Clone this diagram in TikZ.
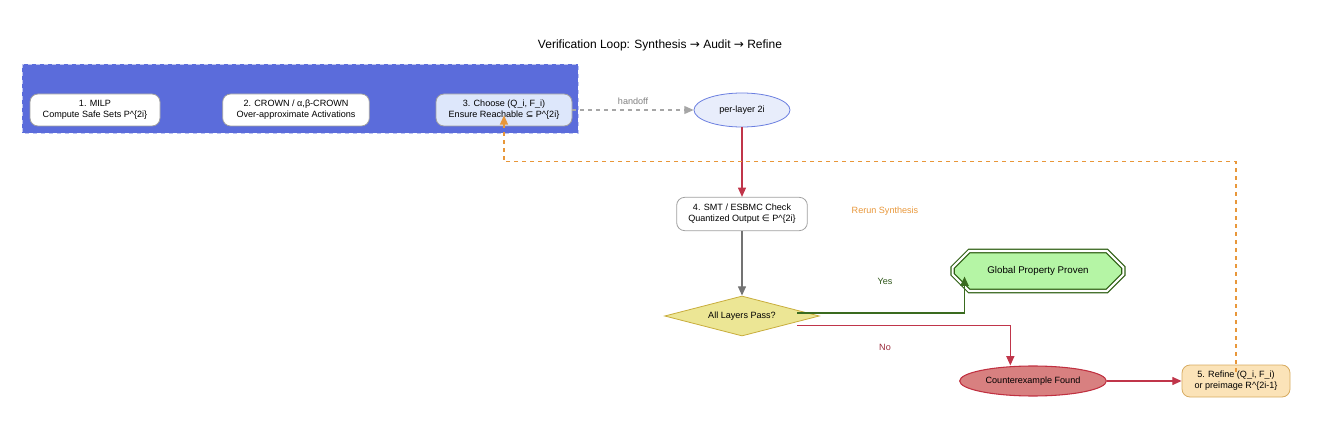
\documentclass[tikz,border=0pt]{standalone}
\usepackage{fontspec}
\setmainfont{Liberation Sans}
\newfontfamily\symf{DejaVu Sans}
\usetikzlibrary{shapes.geometric, shapes.misc, arrows.meta}
\definecolor{clusterblue}{HTML}{5B6CDB}
\definecolor{boxgray}{HTML}{A0A0A0}
\definecolor{chooseblue}{HTML}{DDE7FB}
\definecolor{layerfill}{HTML}{E8EDFB}
\definecolor{layerline}{HTML}{6B7FE0}
\definecolor{diafill}{HTML}{ECE695}
\definecolor{dialine}{HTML}{C8AD3C}
\definecolor{goodfill}{HTML}{B5F5A5}
\definecolor{goodline}{HTML}{2F5F14}
\definecolor{badfill}{HTML}{D88080}
\definecolor{badline}{HTML}{C03040}
\definecolor{refinefill}{HTML}{FBE3B8}
\definecolor{refineline}{HTML}{D7AB60}
\definecolor{redge}{HTML}{C0354A}
\definecolor{oedge}{HTML}{E8973A}
\definecolor{gedge}{HTML}{3A6B1F}

\begin{document}
\begin{tikzpicture}[x=0.75pt,y=-0.75pt,
  every node/.style={font=\fontsize{6.8}{8.4}\selectfont, align=center},
  stepbox/.style={draw=boxgray, rounded corners=6pt, fill=white, line width=0.6pt, inner sep=2pt},
  tip/.style={-{Triangle[length=7pt,width=6pt]}}]
\useasboundingbox (0,0) rectangle (1321,445);
\node[font=\fontsize{9}{11}\selectfont] (title) at (660,45) {Verification Loop: Synthesis {\symf →} Audit {\symf →} Refine};
\draw[fill=clusterblue, draw=clusterblue!40!white, dashed, line width=0.6pt] (22,64) rectangle (578,133);
\node[stepbox, minimum width=97.5pt, minimum height=24pt] (milp) at (95,110) {1. MILP\\Compute Safe Sets P\^{}\{2i\}};
\node[stepbox, minimum width=110pt, minimum height=24pt] (crown) at (296,110) {2. CROWN / α,β-CROWN\\Over-approximate Activations};
\node[stepbox, fill=chooseblue, minimum width=102pt, minimum height=24pt] (choose) at (504,110) {3. Choose (Q\_i, F\_i)\\Ensure Reachable {\symf ⊆} P\^{}\{2i\}};
\node[ellipse, draw=layerline, fill=layerfill, line width=0.6pt, minimum width=72pt, minimum height=25.5pt, inner sep=0pt] (layer) at (742,110) {per-layer 2i};
\node[stepbox, minimum width=98pt, minimum height=25pt] (smt) at (742,214) {4. SMT / ESBMC Check\\Quantized Output {\symf ∈} P\^{}\{2i\}};
\node[diamond, aspect=3.9, draw=dialine, fill=diafill, line width=0.6pt, minimum width=116pt, minimum height=30pt, inner sep=0pt] (pass) at (742,316) {All Layers Pass?};
\node[chamfered rectangle, chamfered rectangle xsep=16pt, chamfered rectangle ysep=9pt, draw=goodline, double=white, double distance=1.6pt, line width=0.9pt, fill=goodfill, minimum width=128pt, minimum height=30pt, inner sep=0pt, font=\fontsize{7.3}{9}\selectfont] (proven) at (1038,271) {Global Property Proven};
\node[ellipse, draw=badline, fill=badfill, line width=0.8pt, minimum width=110pt, minimum height=22.5pt, inner sep=0pt] (cex) at (1033,381) {Counterexample Found};
\node[stepbox, draw=refineline, fill=refinefill, minimum width=81pt, minimum height=24pt] (refine) at (1236,381) {5. Refine (Q\_i, F\_i)\\or preimage R\^{}\{2i-1\}};
\draw[tip, gray!70, dashed, line width=0.8pt] (choose.east) -- node[above, text=gray] {handoff} (layer.west);
\draw[tip, redge, line width=0.9pt] (layer.south) -- (smt.north);
\draw[tip, gray!90!black, line width=1.1pt] (smt.south) -- (pass.north);
\draw[tip, gedge, line width=1.4pt] ([xshift=-17pt,yshift=2pt]pass.east) -| ([xshift=3pt,yshift=5pt]proven.south west);
\draw[tip, redge, line width=1pt] ([xshift=-17pt,yshift=-7pt]pass.east) -| ([xshift=-17pt]cex.north);
\draw[tip, redge, line width=1pt] (cex.east) -- (refine.west);
\draw[tip, oedge, dashed, line width=1.1pt] ([yshift=7pt]refine.center) -- ++(0,-210) -| ([yshift=-4pt]choose.center);
\node[text=gedge!80!black] (yes) at (885,281) {Yes};
\node[text=redge!80!black] (no) at (885,347) {No};
\node[text=oedge] (rerun) at (885,211) {Rerun Synthesis};
\end{tikzpicture}
\end{document}
